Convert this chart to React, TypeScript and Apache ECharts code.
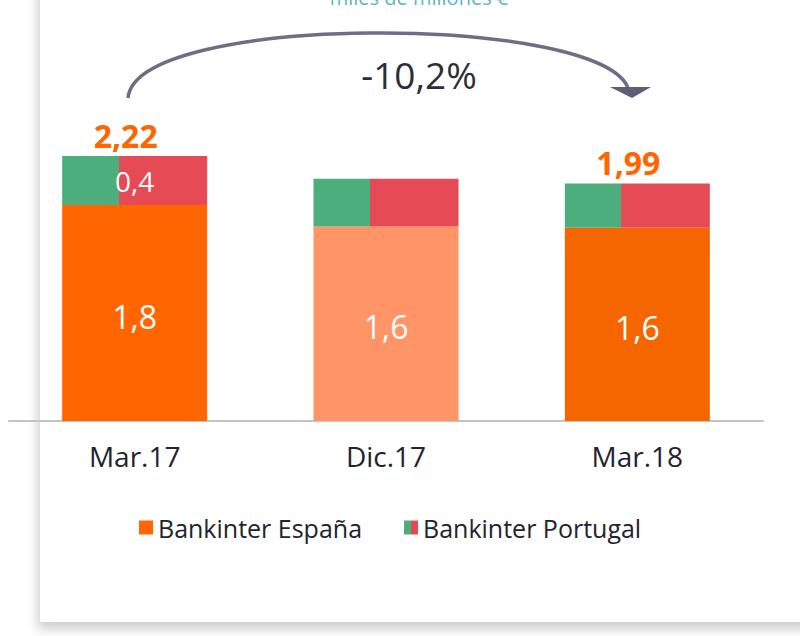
import React, { useEffect, useRef } from "react";
import * as echarts from "echarts";

const categories = ["Mar.17", "Dic.17", "Mar.18"];
const espana = [1.81, 1.63, 1.62];
const portugal = [0.41, 0.4, 0.37];
const espanaColors = ["#FF6600", "#FF9466", "#F56600"];
const showPortugalLabel = [true, false, false];
const showTotal = [true, false, true];
const changeLabel = "-10,2%";
const unitLabel = "miles de millones €";

const fmt = (v: number, d: number) => v.toFixed(d).replace(".", ",");

export default function App() {
  const ref = useRef<HTMLDivElement>(null);
  useEffect(() => {
    if (!ref.current) return;
    const chart = echarts.init(ref.current, undefined, { renderer: "svg" });
    const green = "#4BAE7C";
    const red = "#E64A55";
    const ptGrad = (split: number) =>
      new echarts.graphic.LinearGradient(0, 0, 1, 0, [
        { offset: 0, color: green },
        { offset: split, color: green },
        { offset: split, color: red },
        { offset: 1, color: red },
      ]);
    const totals = espana.map((v, i) => (showTotal[i] ? +(v + portugal[i]).toFixed(2) : "-"));
    const font = "'Open Sans', sans-serif";
    chart.setOption({
      animation: false,
      textStyle: { fontFamily: font },
      grid: { left: 9, right: 37, top: 63, height: 358 },
      legend: {
        left: 134,
        top: 510,
        itemWidth: 14,
        itemHeight: 14,
        itemGap: 42,
        icon: "rect",
        textStyle: { fontSize: 25, color: "#23232d", fontFamily: font },
        data: [
          { name: "Bankinter España", itemStyle: { color: "#FF6600" } },
          { name: "Bankinter Portugal", itemStyle: { color: ptGrad(0.5) } },
        ],
      },
      xAxis: {
        type: "category",
        data: categories,
        axisTick: { show: false },
        axisLine: { lineStyle: { color: "#c4c4c4", width: 2 } },
        axisLabel: { fontSize: 28, color: "#23232d", margin: 21, fontFamily: font },
      },
      yAxis: { type: "value", min: 0, max: 3, show: false, splitLine: { show: false } },
      graphic: [
        {
          type: "rect",
          z: -10,
          silent: true,
          shape: { x: 40, y: -20, width: 800, height: 642 },
          style: { fill: "#ffffff", shadowBlur: 12, shadowColor: "rgba(0,0,0,0.2)", shadowOffsetX: -2, shadowOffsetY: 7 },
        },
        {
          type: "text",
          x: 419,
          y: -3,
          z: 100,
          style: { text: unitLabel, fill: "#5BB5C8", fontSize: 20, fontFamily: font, align: "center", verticalAlign: "middle" },
        },
        {
          type: "bezierCurve",
          z: 100,
          shape: { x1: 128, y1: 98, cpx1: 136, cpy1: 12, cpx2: 600, cpy2: 14, x2: 628, y2: 88 },
          style: { stroke: "#6E6D86", lineWidth: 3.5, fill: null },
        },
        {
          type: "polygon",
          z: 100,
          shape: { points: [[610, 87], [651, 87], [632, 98]] },
          style: { fill: "#5E5D78" },
        },
        {
          type: "text",
          x: 419,
          y: 74,
          z: 100,
          style: { text: changeLabel, fill: "#2e2e3a", fontSize: 37, fontFamily: font, align: "center", verticalAlign: "middle" },
        },
      ],
      series: [
        {
          name: "Bankinter España",
          type: "bar",
          stack: "a",
          barWidth: 145,
          data: espana.map((v, i) => ({ value: v, itemStyle: { color: espanaColors[i] } })),
          label: {
            show: true,
            position: "inside",
            offset: [0, 3],
            color: "#ffffff",
            fontSize: 32,
            fontFamily: font,
            formatter: (p: any) => fmt(p.value, 1),
          },
        },
        {
          name: "Bankinter Portugal",
          type: "bar",
          stack: "a",
          barWidth: 145,
          itemStyle: { color: ptGrad(0.39) },
          data: portugal.map((v, i) => ({
            value: v,
            label: { show: showPortugalLabel[i] },
          })),
          label: {
            position: "inside",
            color: "#ffffff",
            fontSize: 28,
            fontFamily: font,
            formatter: (p: any) => fmt(p.value, 1),
          },
        },
        {
          name: "total",
          type: "scatter",
          symbolSize: 0,
          itemStyle: { opacity: 1 },
          data: totals,
          label: {
            show: true,
            position: "top",
            distance: 5,
            offset: [-9, 0],
            color: "#FF6600",
            fontSize: 32,
            fontWeight: "bold",
            fontFamily: font,
            formatter: (p: any) => fmt(p.value, 2),
          },
        },
      ],
    });
    return () => chart.dispose();
  }, []);
  return (
    <div
      ref={ref}
      style={{ position: "fixed", left: 0, top: 0, width: 800, height: 636, background: "#ffffff" }}
    />
  );
}
